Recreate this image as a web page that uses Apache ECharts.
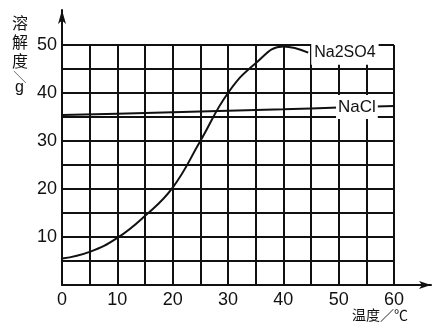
<!DOCTYPE html>
<html><head><meta charset="utf-8">
<script src="https://cdn.jsdelivr.net/npm/echarts@6/dist/echarts.min.js"></script>
<style>html,body{margin:0;padding:0;background:#fff}#c{width:434px;height:324px}</style>
</head><body><div id="c"></div>
<script>
// Data
const na2so4Temps = [0, 5, 10, 15, 20, 25, 30, 35, 40, 44.5];
const na2so4Sol   = [5.5, 6.9, 9.8, 14.4, 20.3, 30, 40, 46.2, 49.7, 48.4];
const naclTemps = [0, 10, 20, 30, 40, 50, 53.3, 60];
const naclSol   = [35.4, 35.7, 36.0, 36.3, 36.6, 37.0, 37.1, 37.3];
const naclLabelIndex = 6;
const xTickLabels = [0, 10, 20, 30, 40, 50, 60];
const yTickLabels = [10, 20, 30, 40, 50];
const seriesNames = ['Na2SO4', 'NaCl'];
const xTitle = '温度／℃';
const yTitleChars = ['溶', '解', '度'];

const ink = '#111';
const font = 'Liberation Sans, Arial, sans-serif';
const cjk = 'Noto Sans CJK SC, sans-serif';

const chart = echarts.init(document.getElementById('c'), null, {renderer: 'canvas'});
const naData = na2so4Temps.map((t, i) => [t, na2so4Sol[i]]);
const naclData = naclTemps.map((t, i) => {
  if (i === naclLabelIndex) {
    return {value: [t, naclSol[i]], label: {show: true, formatter: seriesNames[1], position: 'inside',
      color: ink, fontSize: 17, fontFamily: font, backgroundColor: '#fff', padding: [4, 2, 3, 2]}};
  }
  return [t, naclSol[i]];
});

chart.setOption({
  animation: false,
  backgroundColor: '#fff',
  grid: [
    {left: 62, right: 40, top: 45, bottom: 39},
    {left: 62, right: 3, top: 10, bottom: 39}
  ],
  xAxis: [
    {type: 'value', gridIndex: 0, min: 0, max: 60, interval: 5,
     axisLine: {show: false}, axisTick: {show: false},
     splitLine: {show: true, lineStyle: {color: ink, width: 2}},
     axisLabel: {margin: 6, color: ink, fontSize: 18, fontFamily: font,
       formatter: v => xTickLabels.includes(v) ? String(v) : ''}},
    {type: 'value', gridIndex: 1, min: 0, max: 66,
     axisLine: {show: true, onZero: false, symbol: ['none', 'arrow'], symbolSize: [6, 12], lineStyle: {color: ink, width: 2}},
     axisTick: {show: false}, axisLabel: {show: false}, splitLine: {show: false}}
  ],
  yAxis: [
    {type: 'value', gridIndex: 0, min: 0, max: 50, interval: 5,
     axisLine: {show: false}, axisTick: {show: false},
     splitLine: {show: true, lineStyle: {color: ink, width: 2}},
     axisLabel: {margin: 5, color: ink, fontSize: 18, fontFamily: font,
       formatter: v => yTickLabels.includes(v) ? String(v) : ''}},
    {type: 'value', gridIndex: 1, min: 0, max: 57,
     axisLine: {show: true, onZero: false, symbol: ['none', 'arrow'], symbolSize: [6, 14], lineStyle: {color: ink, width: 2}},
     axisTick: {show: false}, axisLabel: {show: false}, splitLine: {show: false}}
  ],
  series: [
    {name: seriesNames[0], type: 'line', xAxisIndex: 0, yAxisIndex: 0, data: naData,
     smooth: 0.45, showSymbol: false, symbol: 'none',
     lineStyle: {color: ink, width: 2},
     endLabel: {show: true, formatter: seriesNames[0], color: ink, fontSize: 16, fontFamily: font,
       backgroundColor: '#fff', padding: [4, 3, 4, 3], distance: 3}},
    {name: seriesNames[1], type: 'line', xAxisIndex: 0, yAxisIndex: 0, data: naclData,
     smooth: true, showSymbol: true, symbol: 'circle', symbolSize: 0,
     lineStyle: {color: ink, width: 2}, itemStyle: {color: ink}}
  ],
  graphic: [
    {type: 'text', left: 352, top: 308, style: {text: xTitle, fill: ink, font: '14px ' + cjk}},
    {type: 'text', left: 12, top: 13, style: {text: yTitleChars.join('\n'), fill: ink, font: '16px ' + cjk, lineHeight: 19}},
    {type: 'text', x: 20, y: 77, rotation: -Math.PI / 2,
     style: {text: '／', fill: ink, font: '13px ' + cjk, align: 'center', verticalAlign: 'middle'}},
    {type: 'text', left: 15, top: 80, style: {text: 'g', fill: ink, font: '16px ' + font}}
  ]
});
</script></body></html>
